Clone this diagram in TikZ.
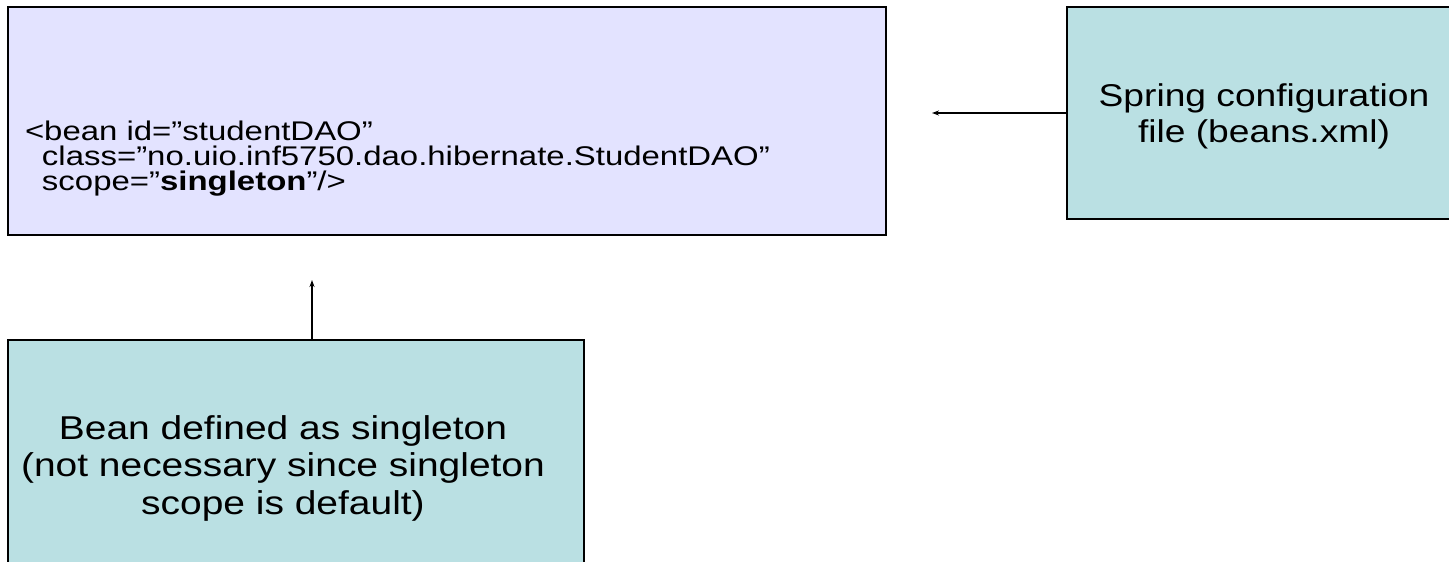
\documentclass[tikz,border=0pt]{standalone}
\usepackage{fontspec}
\setmainfont{Liberation Sans}
\newfontfamily\codefont[FakeStretch=1.22]{Liberation Sans}
\newfontfamily\boxfont[FakeStretch=1.18]{Liberation Sans}
\usetikzlibrary{arrows.meta}
\definecolor{lav}{HTML}{E3E3FF}
\definecolor{teal}{HTML}{BAE0E3}
\tikzset{
  box/.style={draw=black, line width=1.6pt, inner sep=0pt, outer sep=0pt},
  lbl/.style={inner sep=0pt, outer sep=0pt, align=center},
  code/.style={inner sep=0pt, outer sep=0pt, font=\codefont\fontsize{27}{25}\selectfont, align=left, anchor=west},
  arr/.style={line width=1.3pt, -{Stealth[length=7pt,width=5pt]}}
}
\begin{document}
\begin{tikzpicture}[x=1pt,y=-1pt]
\useasboundingbox (0,0) rectangle (1449,562);
\clip (0,0) rectangle (1449,562);
\fill[white] (0,0) rectangle (1449,562);
\node[box, fill=lav, minimum width=878pt, minimum height=228pt] (bean) at (447,121) {};
\node[box, fill=teal, minimum width=396pt, minimum height=212pt] (spring) at (1265,113) {};
\node[box, fill=teal, minimum width=576pt, minimum height=252pt] (single) at (296,466) {};
\node[code] (codetxt) at (25,159) {<bean id=”studentDAO”\\\hspace*{17pt}class=”no.uio.inf5750.dao.hibernate.StudentDAO”\\\hspace*{17pt}scope=”\textbf{singleton}”/>};
\node[lbl, font=\boxfont\fontsize{31.5}{36}\selectfont] (springtxt) at (1264,116.5) {Spring configuration\\file (beans.xml)};
\node[lbl, font=\boxfont\fontsize{33}{37.5}\selectfont] (singletxt) at (283,468) {Bean defined as singleton\\(not necessary since singleton\\scope is default)};
\coordinate (beanr) at (932,113);
\coordinate (beanb) at (312,280);
\draw[arr] (spring.west |- beanr) -- (beanr);
\draw[arr] (single.north -| beanb) -- (beanb);
\end{tikzpicture}
\end{document}
